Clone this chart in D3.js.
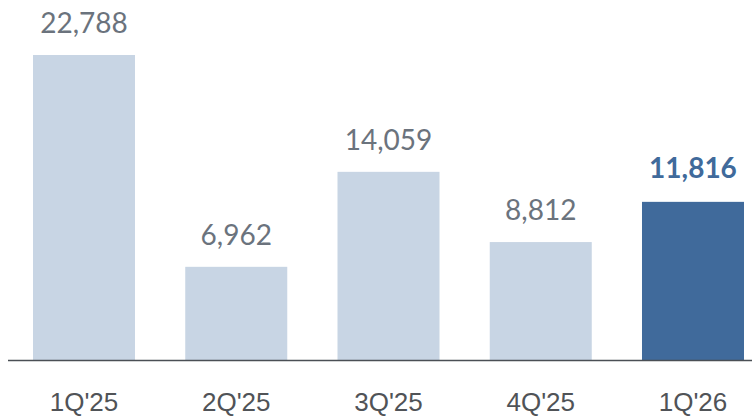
<!doctype html>
<html lang="en">
<head>
	<meta charset="UTF-8">
	<title>Quarterly bars</title>
	<style>
		html, body { margin: 0; padding: 0; background: #fff; }
		svg { display: block; }
		text { font-family: Lato, "Open Sans", sans-serif; }
		text.cat { font-family: "Liberation Sans", Arial, sans-serif; }
	</style>
</head>
<body>
	<script src="https://cdn.jsdelivr.net/npm/d3@7"></script>
	<script>
		var categories = ["1Q'25", "2Q'25", "3Q'25", "4Q'25", "1Q'26"];
		var values = [22788, 6962, 14059, 8812, 11816];
		var highlight = [false, false, false, false, true];

		var w = 752,
			h = 416,
			baseY = 360;

		var svg = d3.select('body')
			.append('svg')
			.attr('width', w)
			.attr('height', h);

		var x = d3.scaleBand()
			.domain(categories)
			.range([33, 744])
			.paddingInner(0.33)
			.paddingOuter(0);

		var y = d3.scaleLinear()
			.domain([0, 22788])
			.range([baseY, 55]);

		var fmt = d3.format(',');

		svg.selectAll('rect.bar')
			.data(values)
			.enter()
			.append('rect')
			.attr('class', 'bar')
			.attr('x', function(d, i) { return x(categories[i]); })
			.attr('y', function(d) { return y(d); })
			.attr('width', x.bandwidth())
			.attr('height', function(d) { return baseY - y(d); })
			.attr('fill', function(d, i) { return highlight[i] ? '#406a9b' : '#c8d5e4'; });

		svg.selectAll('text.val')
			.data(values)
			.enter()
			.append('text')
			.attr('class', 'val')
			.attr('x', function(d, i) { return x(categories[i]) + x.bandwidth() / 2; })
			.attr('y', function(d, i) { return y(d) - (highlight[i] ? 24 : 22); })
			.attr('text-anchor', 'middle')
			.attr('font-size', 28)
			.attr('font-weight', function(d, i) { return highlight[i] ? 700 : 400; })
			.attr('fill', function(d, i) { return highlight[i] ? '#406a9b' : '#6b737d'; })
			.text(function(d) { return fmt(d); });

		// baseline
		svg.append('line')
			.attr('x1', 8)
			.attr('x2', w)
			.attr('y1', baseY + 0.5)
			.attr('y2', baseY + 0.5)
			.attr('stroke', '#4a4f55')
			.attr('stroke-width', 1.5);

		svg.selectAll('text.cat')
			.data(categories)
			.enter()
			.append('text')
			.attr('class', 'cat')
			.attr('x', function(d) { return x(d) + x.bandwidth() / 2; })
			.attr('y', 411)
			.attr('text-anchor', 'middle')
			.attr('font-size', 26)
			.attr('fill', '#505357')
			.text(function(d) { return d; });
	</script>
</body>
</html>
